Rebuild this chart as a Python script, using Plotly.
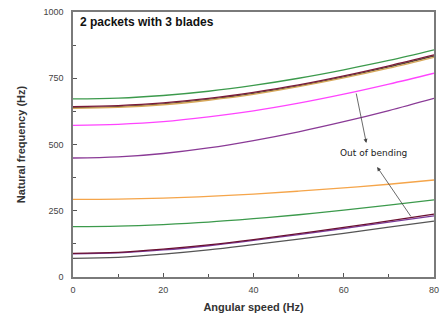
import plotly.graph_objects as go

speed = [0, 10, 20, 30, 40, 50, 60, 70, 80]

green_hi = [672, 675, 685, 701, 723, 750, 782, 817, 857]
darkred_hi = [643, 647, 657, 674, 697, 725, 759, 797, 838]
black_hi = [639, 643, 653, 670, 693, 721, 755, 793, 834]
orange_hi = [636, 640, 650, 667, 689, 718, 751, 788, 829]
magenta = [572, 576, 586, 604, 627, 656, 690, 728, 769]
purple_hi = [449, 453, 466, 487, 515, 548, 586, 628, 674]
orange_lo = [293, 294, 298, 304, 313, 324, 336, 350, 366]
green_lo = [190, 192, 198, 207, 220, 235, 252, 271, 291]
darkred_lo = [89, 93, 105, 121, 141, 164, 187, 212, 237]
purple_lo = [87, 91, 102, 118, 138, 160, 183, 207, 231]
black_lo = [70, 74, 86, 102, 122, 143, 165, 188, 211]

series = [
    (green_hi, "#3c9a4c"),
    (black_hi, "#5a4a3a"),
    (orange_hi, "#d8a85a"),
    (darkred_hi, "#7a1a3a"),
    (magenta, "#ff44ff"),
    (purple_hi, "#8a3a96"),
    (orange_lo, "#f5a54a"),
    (green_lo, "#3c9a4c"),
    (black_lo, "#555555"),
    (purple_lo, "#7a3a9a"),
    (darkred_lo, "#6a1030"),
]

fig = go.Figure()
for ys, col in series:
    fig.add_trace(go.Scatter(x=speed, y=ys, mode="lines", line=dict(color=col, width=1.3, shape="spline"),
                             showlegend=False, hoverinfo="skip"))

axis_common = dict(
    showline=True, linecolor="#7a7a7a", linewidth=1.5, mirror=True,
    ticks="inside", ticklen=4, tickcolor="#555555", tickwidth=1,
    showgrid=False, zeroline=False, automargin=False,
    tickfont=dict(family="Liberation Sans, Arial", size=9, color="#444444"),
)

fig.update_xaxes(range=[0, 80], tickvals=[0, 20, 40, 60, 80], ticklabelstandoff=3,
                 minor=dict(tickvals=[10, 30, 50, 70], ticks="inside", ticklen=3, tickcolor="#555555"),
                 title=dict(text="<b>Angular speed (Hz)</b>", font=dict(family="Liberation Sans, Arial", size=11, color="#333333"), standoff=10),
                 **axis_common)
fig.update_yaxes(range=[0, 1000], tickvals=[0, 250, 500, 750, 1000], ticklabelstandoff=6,
                 minor=dict(tickvals=[125, 375, 625, 875], ticks="inside", ticklen=3, tickcolor="#555555"),
                 title=dict(text="<b>Natural frequency (Hz)</b>", font=dict(family="Liberation Sans, Arial", size=11, color="#333333"), standoff=16),
                 **axis_common)

fig.add_annotation(x=0.015, y=0.995, xref="paper", yref="paper", xanchor="left", yanchor="top",
                   text="<b>2 packets with 3 blades</b>", showarrow=False,
                   font=dict(family="Liberation Sans, Arial", size=12, color="#111111"))
fig.add_annotation(x=66.7, y=468, text="Out of bending", showarrow=False,
                   font=dict(family="DejaVu Sans", size=9, color="#222222"))
fig.add_annotation(x=65, y=506, ax=62.7, ay=698, axref="x", ayref="y", text="",
                   showarrow=True, arrowhead=2, arrowsize=1, arrowwidth=0.8, arrowcolor="#444444")
fig.add_annotation(x=67.4, y=415, ax=75.1, ay=223, axref="x", ayref="y", text="",
                   showarrow=True, arrowhead=2, arrowsize=1, arrowwidth=0.8, arrowcolor="#444444")

fig.update_layout(width=446, height=320, margin=dict(l=73, r=12, t=12, b=43),
                  plot_bgcolor="white", paper_bgcolor="white")

fig.write_html("out.html", config={"displayModeBar": False},
               post_script="document.body.style.margin='0';document.body.style.overflow='hidden';")
